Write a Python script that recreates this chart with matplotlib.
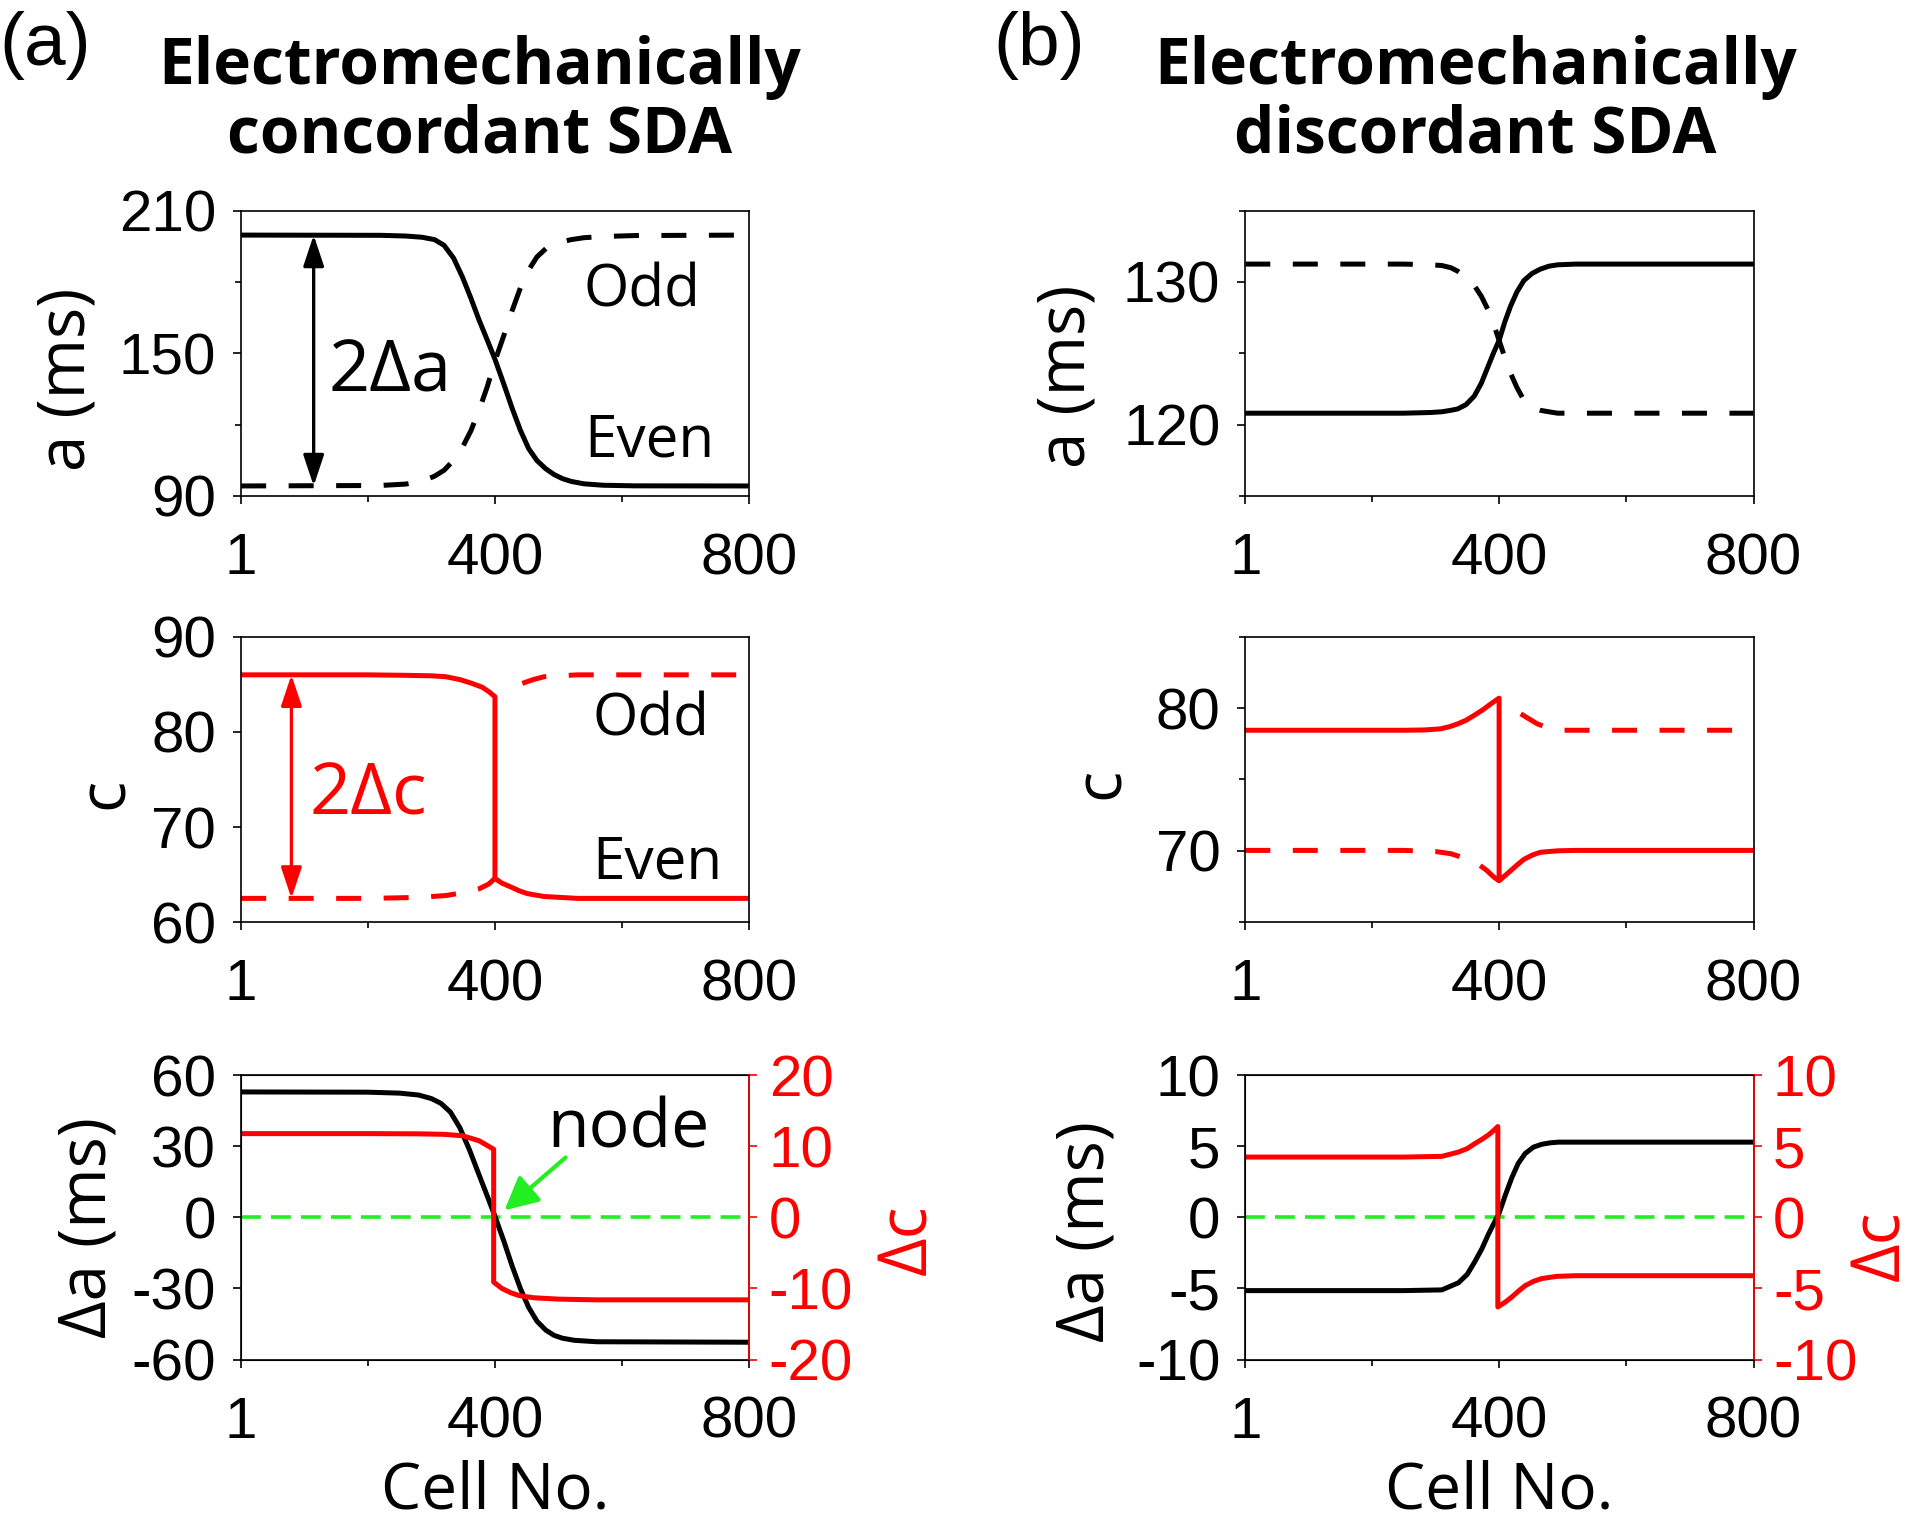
import numpy as np
import matplotlib
matplotlib.use("Agg")
from matplotlib import pyplot as plt

plt.rcParams["axes.unicode_minus"] = False
plt.rcParams["font.family"] = ["Liberation Sans", "DejaVu Sans"]

NAN = np.nan

# ---- (a) electromechanically concordant ----
conc_a_cells = [1, 220, 260, 285, 305, 320, 335, 349, 362, 375, 388, 400, 414, 427, 440, 453, 466, 480, 493,
                506, 520, 540, 570, 620, 800]
conc_a_even = [199.7, 199.6, 199.3, 198.8, 197.8, 195.4, 190.0, 182.0, 173.3, 164.0, 155.5, 147.5, 137.0, 126.9,
               117.6, 109.9, 104.9, 101.4, 99.0, 97.3, 96.1, 95.1, 94.5, 94.25, 94.2]
conc_a_odd = [94.2, 94.4, 95.0, 96.2, 98.3, 100.8, 105.0, 110.5, 117.3, 126.0, 136.0, 146.7, 157.5, 167.9,
              177.5, 185.0, 190.5, 194.0, 195.8, 196.9, 197.8, 198.6, 199.1, 199.5, 199.7]

conc_c_even_cells = [1, 200, 260, 300, 323, 345, 364, 380, 391, 400, 400, 411, 425, 438, 451, 477, 530, 800]
conc_c_even = [86.0, 86.0, 85.95, 85.9, 85.8, 85.5, 85.1, 84.7, 84.2, 83.7, 64.6, 64.1, 63.7, 63.3, 63.0, 62.7,
               62.5, 62.5]
conc_c_odd_cells = [1, 200, 280, 323, 350, 375, 390, 400, NAN, 443, 460, 477, 530, 800]
conc_c_odd = [62.5, 62.5, 62.6, 62.8, 63.1, 63.5, 64.0, 64.6, NAN, 85.1, 85.5, 85.8, 86.0, 86.0]

conc_da_cells = [1, 200, 250, 280, 300, 315, 330, 345, 360, 375, 388, 400, 414, 427, 440, 453, 466, 480, 493,
                 506, 525, 560, 800]
conc_da = [53.0, 52.9, 52.5, 51.7, 50.2, 48.2, 44.5, 37.8, 28.5, 18.0, 9.0, 0.5, -10.0, -20.5, -30.0, -38.0,
           -43.8, -47.6, -49.8, -51.0, -51.9, -52.5, -52.7]
conc_dc_cells = [1, 200, 280, 320, 349, 375, 398, 398, 411, 425, 438, 460, 500, 560, 800]
conc_dc = [11.8, 11.8, 11.77, 11.7, 11.5, 10.8, 9.6, -9.1, -10.0, -10.6, -11.0, -11.3, -11.5, -11.6, -11.6]

# ---- (b) electromechanically discordant ----
disc_a_cells = [1, 250, 293, 310, 324, 335, 348, 361, 372, 382, 391, 400, 409, 418, 428, 439, 452, 465, 478, 492,
                520, 800]
disc_a_solid = [120.8, 120.8, 120.85, 120.9, 121.0, 121.1, 121.4, 122.0, 122.9, 124.0, 125.0, 125.9, 127.2,
                128.3, 129.3, 130.1, 130.6, 130.9, 131.1, 131.2, 131.25, 131.25]
disc_a_dashed = [131.25, 131.25, 131.2, 131.15, 131.0, 130.75, 130.35, 129.75, 129.0, 128.1, 127.1, 125.9, 124.7,
                 123.6, 122.6, 121.7, 121.2, 121.0, 120.9, 120.8, 120.8, 120.8]

disc_c_solid_cells = [1, 250, 282, 308, 322, 335, 348, 361, 375, 387, 395, 400, 400, 409, 418, 428, 439, 452, 465,
                      492, 520, 800]
disc_c_solid = [78.45, 78.45, 78.47, 78.55, 78.7, 78.9, 79.15, 79.5, 79.9, 80.3, 80.55, 80.7, 67.9, 68.25, 68.6,
                69.0, 69.4, 69.7, 69.9, 70.0, 70.03, 70.03]
disc_c_dashed_cells = [1, 250, 300, 324, 345, 366, 380, 392, 400, NAN, 434, 447, 460, 475, 502, 800]
disc_c_dashed = [70.03, 70.03, 69.95, 69.8, 69.5, 69.1, 68.65, 68.15, 67.9, NAN, 79.6, 79.25, 78.9, 78.65, 78.45,
                 78.45]

disc_da_cells = [1, 250, 310, 336, 350, 362, 373, 383, 392, 400, 410, 420, 430, 441, 454, 467, 480, 493, 520, 800]
disc_da = [-5.15, -5.15, -5.1, -4.6, -4.0, -3.1, -2.2, -1.2, -0.4, 0.3, 1.6, 2.8, 3.8, 4.5, 4.95, 5.15, 5.25,
           5.3, 5.3, 5.3]
disc_dc_cells = [1, 250, 310, 336, 350, 362, 373, 383, 391, 398, 398, 410, 420, 430, 441, 454, 467, 490, 520, 800]
disc_dc = [4.25, 4.25, 4.3, 4.6, 4.85, 5.2, 5.5, 5.8, 6.1, 6.4, -6.3, -5.95, -5.6, -5.2, -4.8, -4.5, -4.3, -4.15,
           -4.1, -4.1]

node_line = [0, 0]
node_cells = [1, 800]

TICK_FS = 42
TEXT_FS = 42
YLAB_FS = 47
SANS = ["Open Sans", "DejaVu Sans"]
RED = "#ff0000"
GREEN = "#22ee22"
LW = 3.6
DASH = (5, 4.5)
GDASH = (5.5, 2.8)


def style_axes(ax, ylim, yticks, yminor):
    ax.set_xlim(1, 800)
    ax.set_ylim(*ylim)
    ax.set_xticks([1, 400, 800])
    ax.set_xticks([200, 600], minor=True)
    ax.set_yticks(yticks)
    ax.set_yticks(yminor, minor=True)
    ax.tick_params(which="major", direction="out", length=6, width=1.2, labelsize=TICK_FS)
    ax.tick_params(which="minor", direction="out", length=4, width=1.2)
    ax.tick_params(axis="x", which="major", pad=20)
    ax.tick_params(axis="y", which="major", pad=12)
    for s in ax.spines.values():
        s.set_linewidth(1.2)


def ylab(ax, text, x, y):
    ax.set_ylabel(text, fontsize=YLAB_FS, family=SANS, va="center")
    ax.yaxis.set_label_coords(x, y)


def twin_red(ax, ylim, yticks, label, x, y):
    ax2 = ax.twinx()
    ax2.set_ylim(*ylim)
    ax2.set_yticks(yticks)
    ax2.tick_params(axis="y", direction="out", length=6, width=1.2, labelsize=TICK_FS, colors=RED, pad=8)
    ax2.spines["right"].set_color(RED)
    ax2.spines["right"].set_linewidth(1.2)
    ax2.set_ylabel(label, fontsize=48, family=SANS, color=RED, rotation=90, va="center")
    ax2.yaxis.set_label_coords(x, y)
    return ax2


fig = plt.figure(figsize=(19.2, 15.26), dpi=100)

lefts = [0.1256, 0.6486]
W = 0.2647
rows = [(0.675, 0.187), (0.3957, 0.187), (0.1091, 0.1862)]
arrow_style = "<|-|>,head_length=0.45,head_width=0.15"

# ---------- panel (a) ----------
ax = fig.add_axes([lefts[0], rows[0][0], W, rows[0][1]])
ax.plot(conc_a_cells, conc_a_even, "k-", lw=LW)
ax.plot(conc_a_cells, conc_a_odd, "k--", lw=LW, dashes=DASH)
style_axes(ax, (90, 210), [90, 150, 210], [120, 180])
ylab(ax, "a (ms)", -0.342, 0.41)
ax.annotate("", xy=(115, conc_a_even[-1]), xytext=(115, conc_a_even[0]),
            arrowprops=dict(arrowstyle=arrow_style, color="k", lw=2.4, mutation_scale=42, shrinkA=0, shrinkB=0))
ax.text(138, 142, "2Δa", fontsize=52, family=SANS, va="center", ha="left")
ax.text(540, 176, "Odd", fontsize=TEXT_FS, family=SANS, va="center", ha="left")
ax.text(540, 113, "Even", fontsize=TEXT_FS, family=SANS, va="center", ha="left")

ax = fig.add_axes([lefts[0], rows[1][0], W, rows[1][1]])
ax.plot(conc_c_even_cells, conc_c_even, "-", color=RED, lw=LW)
ax.plot(conc_c_odd_cells, conc_c_odd, "--", color=RED, lw=LW, dashes=DASH)
style_axes(ax, (60, 90), [60, 70, 80, 90], [])
ylab(ax, "c", -0.267, 0.45)
ax.annotate("", xy=(80, conc_c_even[-1]), xytext=(80, conc_c_even[0]),
            arrowprops=dict(arrowstyle=arrow_style, color=RED, lw=2.4, mutation_scale=42, shrinkA=0, shrinkB=0))
ax.text(108, 73.3, "2Δc", fontsize=52, family=SANS, va="center", ha="left", color=RED)
ax.text(553, 81.2, "Odd", fontsize=TEXT_FS, family=SANS, va="center", ha="left")
ax.text(553, 66.2, "Even", fontsize=TEXT_FS, family=SANS, va="center", ha="left")

ax = fig.add_axes([lefts[0], rows[2][0], W, rows[2][1]])
style_axes(ax, (-60, 60), [-60, -30, 0, 30, 60], [])
ax.plot(node_cells, node_line, "--", color=GREEN, lw=2.6, dashes=GDASH, zorder=1)
ax.plot(conc_da_cells, conc_da, "k-", lw=LW, zorder=3)
ax.set_xlabel("Cell No.", fontsize=46, family=SANS, labelpad=7)
ylab(ax, "Δa (ms)", -0.30, 0.466)
ax.text(482, 37.2, "node", fontsize=49, family=SANS, va="center", ha="left")
ax.annotate("", xy=(415, 3.0), xytext=(511, 25.3),
            arrowprops=dict(arrowstyle="-|>,head_length=0.75,head_width=0.38", color=GREEN, lw=3,
                            mutation_scale=27, shrinkA=0, shrinkB=0))
ax2 = twin_red(ax, (-20, 20), [-20, -10, 0, 10, 20], "Δc", 1.313, 0.42)
ax2.plot(conc_dc_cells, conc_dc, "-", color=RED, lw=LW)

# ---------- panel (b) ----------
ax = fig.add_axes([lefts[1], rows[0][0], W, rows[0][1]])
ax.plot(disc_a_cells, disc_a_solid, "k-", lw=LW)
ax.plot(disc_a_cells, disc_a_dashed, "k--", lw=LW, dashes=DASH)
style_axes(ax, (115, 135), [120, 130], [115, 125, 135])
ylab(ax, "a (ms)", -0.349, 0.42)

ax = fig.add_axes([lefts[1], rows[1][0], W, rows[1][1]])
ax.plot(disc_c_solid_cells, disc_c_solid, "-", color=RED, lw=LW)
ax.plot(disc_c_dashed_cells, disc_c_dashed, "--", color=RED, lw=LW, dashes=DASH)
style_axes(ax, (65, 85), [70, 80], [65, 75, 85])
ylab(ax, "c", -0.282, 0.485)

ax = fig.add_axes([lefts[1], rows[2][0], W, rows[2][1]])
style_axes(ax, (-10, 10), [-10, -5, 0, 5, 10], [])
ax.plot(node_cells, node_line, "--", color=GREEN, lw=2.6, dashes=GDASH, zorder=1)
ax.plot(disc_da_cells, disc_da, "k-", lw=LW, zorder=3)
ax.set_xlabel("Cell No.", fontsize=46, family=SANS, labelpad=7)
ylab(ax, "Δa (ms)", -0.313, 0.45)
ax2 = twin_red(ax, (-10, 10), [-10, -5, 0, 5, 10], "Δc", 1.252, 0.40)
ax2.plot(disc_dc_cells, disc_dc, "-", color=RED, lw=LW)

# titles and panel letters
fig.text(0.25, 0.9335, "Electromechanically\nconcordant SDA", ha="center", va="center",
         fontsize=46, fontweight="bold", family=SANS, linespacing=1.08)
fig.text(0.7685, 0.9335, "Electromechanically\ndiscordant SDA", ha="center", va="center",
         fontsize=46, fontweight="bold", family=SANS, linespacing=1.08)
fig.text(0.0236, 0.970, "(a)", ha="center", va="center", fontsize=54)
fig.text(0.5414, 0.970, "(b)", ha="center", va="center", fontsize=54)

fig.savefig("out.png", dpi=100)
